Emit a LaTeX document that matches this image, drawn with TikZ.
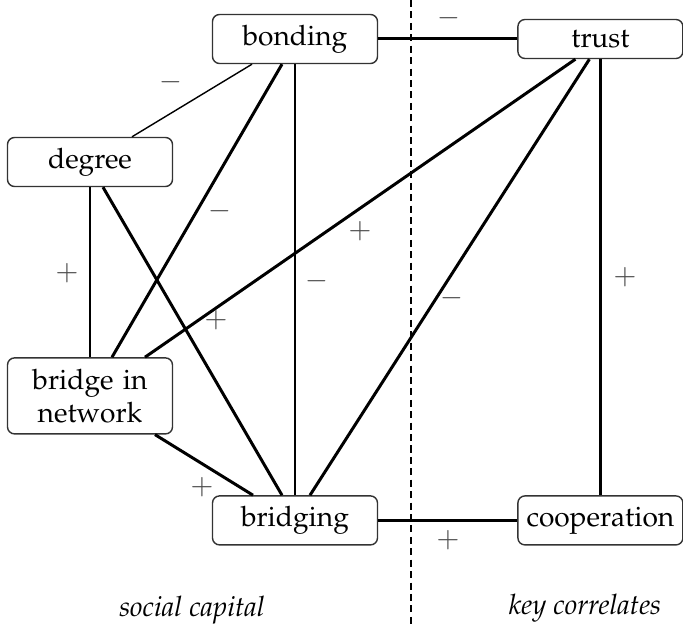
\documentclass[tikz,border=0pt]{standalone}
\usepackage[T1]{fontenc}
\usepackage{mathpazo}
\usepackage{tikz}
\usetikzlibrary{positioning}

\begin{document}
\begin{tikzpicture}
[node distance = 1cm, auto,
every node/.style={font=\fontsize{16}{19}\selectfont},
concept/.style={rectangle, rounded corners=4pt, draw=black!80, line width=0.8pt,
text width=3.0cm, align=center, minimum width=3.3cm, minimum height=0.98cm, inner sep=2pt},
strong/.style={line width=1.7pt},
weak/.style={line width=0.8pt},
sign/.style={text=black!70, inner sep=0pt},
side/.style={font=\fontsize{16}{19}\selectfont\itshape}]

\useasboundingbox (0,0) rectangle (13.66,-12.54);

% Draw concepts
\node [concept] (bonding) at (5.9,-0.78) {bonding};
\node [concept, minimum height=0.78cm, right=2.78cm of bonding] (trust) {trust};
\node [concept] (degree) at (1.8,-3.24) {degree};
\node [concept, minimum height=1.52cm, below=3.4cm of degree] (bridge) {bridge in\\network};
\node [concept, below=8.62cm of bonding] (bridging) {bridging};
\node [concept, right=2.78cm of bridging] (coop) {cooperation};

% Divider
\coordinate (sepTop) at (8.22,0);
\coordinate (sepBot) at (8.22,-12.54);
\draw [dashed, line width=0.9pt, dash pattern=on 4pt off 2.5pt] (sepTop) -- (sepBot);

\path[strong]
(bonding) edge (trust)
(bridging) edge (coop)
(trust.south) edge (coop.north)
([xshift=-0.26cm]bonding.south) edge ([xshift=0.44cm]bridge.north)
([xshift=0.26cm]degree.south) edge ([xshift=-0.26cm]bridging.north)
([xshift=-0.5cm]trust.south) edge ([xshift=1.1cm]bridge.north)
([xshift=-0.22cm]trust.south) edge ([xshift=0.3cm]bridging.north)
([xshift=1.3cm]bridge.south) edge ([xshift=-0.84cm]bridging.north);

\path[weak]
([xshift=-0.86cm]bonding.south) edge ([xshift=0.84cm]degree.north)
(bonding) edge (bridging)
(degree) edge (bridge);

% Signs
\node [sign] (sBondTrust) at (8.98,-0.36) {$-$};
\node [sign] (sBondDeg) at (3.42,-1.64) {$-$};
\node [sign] (sBondBridge) at (4.4,-4.22) {$-$};
\node [sign] (sTrustBridge) at (7.2,-4.62) {$+$};
\node [sign] (sBondBridging) at (6.34,-5.62) {$-$};
\node [sign] (sTrustBridging) at (9.04,-5.96) {$-$};
\node [sign] (sTrustCoop) at (12.5,-5.54) {$+$};
\node [sign] (sDegBridge) at (1.34,-5.46) {$+$};
\node [sign] (sDegBridging) at (4.32,-6.4) {$+$};
\node [sign] (sBridgeBridging) at (4.04,-9.74) {$+$};
\node [sign] (sBridgingCoop) at (8.96,-10.8) {$+$};

% Captions
\node [side] (capLeft) at (3.84,-12.2) {social capital};
\node [side] (capRight) at (11.7,-12.16) {key correlates};

\end{tikzpicture}
\end{document}
